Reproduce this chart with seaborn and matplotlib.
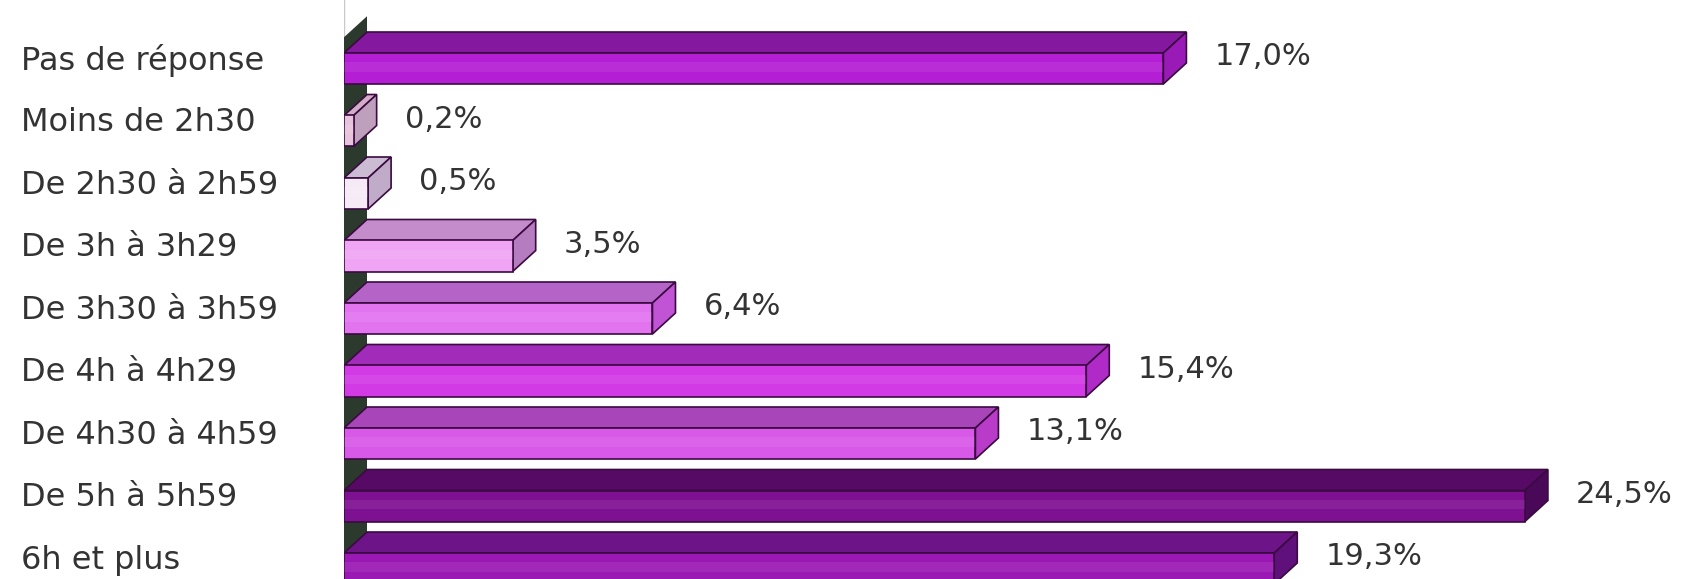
import numpy as np
import pandas as pd
import matplotlib
matplotlib.use("Agg")
import matplotlib.pyplot as plt
from matplotlib.patches import Polygon
import seaborn as sns

# ---- data ----
categories = ["Pas de réponse", "Moins de 2h30", "De 2h30 à 2h59", "De 3h à 3h29",
              "De 3h30 à 3h59", "De 4h à 4h29", "De 4h30 à 4h59", "De 5h à 5h59",
              "6h et plus"]
values = [17.0, 0.2, 0.5, 3.5, 6.4, 15.4, 13.1, 24.5, 19.3]
value_labels = ["17,0%", "0,2%", "0,5%", "3,5%", "6,4%", "15,4%", "13,1%", "24,5%", "19,3%"]

# ---- styles ----
front_colors = ["#b41ed4", "#e8c4dc", "#f6eaf6", "#f0a4f4", "#e274f0",
                "#d23ae6", "#d858e8", "#7e1092", "#9a18b4"]
top_colors = ["#84189f", "#cfaec6", "#cbbbd3", "#c48ccb", "#b464c6",
              "#a22cba", "#a846b9", "#560a66", "#6c1488"]
side_colors = ["#9a1ab8", "#bfa0bc", "#c0acc8", "#b57cbf", "#c054d4",
               "#b02ac8", "#b83cc8", "#4a0858", "#60107a"]
edge = "#3a0a40"
wall_color = "#2c3a2e"
text_color = "#333333"

W, H = 1685, 579
fig = plt.figure(figsize=(W / 100, H / 100), dpi=100)
ax_left_px = 344
ax = fig.add_axes([ax_left_px / W, 0, 1 - ax_left_px / W, 1])

px_per_pct = 48.2
row_px = 62.5
front_center0_px = 68.5
xmax = (W - ax_left_px) / px_per_pct
ytop = -front_center0_px / row_px
ybot = (H - front_center0_px) / row_px

front_h = 31 / row_px
dx = 23 / px_per_pct
dy = 21 / row_px

df = pd.DataFrame({"cat": categories, "val": values})

sns.barplot(data=df, x="val", y="cat", hue="cat", palette=front_colors, orient="h",
            width=front_h, edgecolor=edge, linewidth=1.2, legend=False, ax=ax,
            saturation=1, zorder=3)

bars = [b for c in ax.containers for b in c]
bars.sort(key=lambda b: b.get_y())

# back wall
ax.add_patch(Polygon([(0, ybot + 1), (0, -0.50), (dx, -0.50 - dy), (dx, ybot + 1)],
                     closed=True, facecolor=wall_color, edgecolor="none", zorder=1))

for i, p in enumerate(bars):
    y0 = p.get_y()
    h = p.get_height()
    v = p.get_width()
    ft = y0
    fb = y0 + h
    top = Polygon([(0, ft), (v, ft), (v + dx, ft - dy), (dx, ft - dy)], closed=True,
                  facecolor=top_colors[i], edgecolor=edge, linewidth=1.2, zorder=2.5)
    side = Polygon([(v, ft), (v + dx, ft - dy), (v + dx, fb - dy), (v, fb)], closed=True,
                   facecolor=side_colors[i], edgecolor=edge, linewidth=1.2, zorder=2.6)
    ax.add_patch(top)
    ax.add_patch(side)
    ax.add_patch(Polygon([(0, ft + h * 0.3), (v, ft + h * 0.3), (v, ft + h * 0.6), (0, ft + h * 0.6)],
                         closed=True, facecolor="white", alpha=0.07, edgecolor="none", zorder=3.5))
    ax.text(v + dx + 28 / px_per_pct, (ft + fb) / 2 - dy / 2 - 0.02, value_labels[i],
            ha="left", va="center", fontsize=22, color=text_color, zorder=5)

ax.set_xlim(0, xmax)
ax.set_ylim(ybot, ytop)
ax.set_yticks(np.arange(len(categories)) - dy / 2 - 0.02)
ax.set_yticklabels(categories)
ax.tick_params(axis="y", length=0, pad=(ax_left_px - 21) * 72 / 100, labelsize=23,
               labelcolor=text_color)
for lbl in ax.get_yticklabels():
    lbl.set_ha("left")
ax.set_xticks([])
ax.set_xlabel("")
ax.set_ylabel("")
for s in ax.spines.values():
    s.set_visible(False)
ax.axvline(0, color="#c8c8c8", linewidth=1, zorder=0.5)
ax.set_facecolor("white")
fig.patch.set_facecolor("white")

fig.savefig("out.png", dpi=100)
